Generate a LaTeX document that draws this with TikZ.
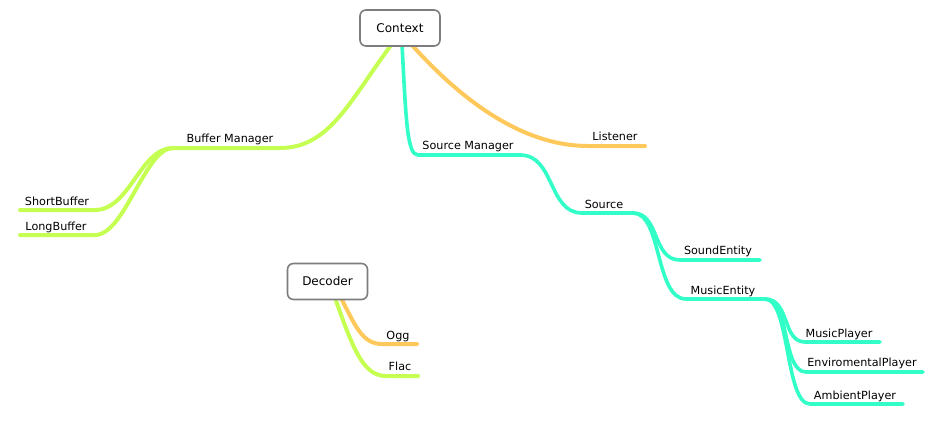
\documentclass[tikz,border=0pt]{standalone}
\usepackage{fontspec}
\setmainfont{DejaVu Sans}
\usetikzlibrary{backgrounds}
\definecolor{cgreen}{RGB}{196,255,82}
\definecolor{corange}{RGB}{255,200,90}
\definecolor{cteal}{RGB}{50,255,200}
\definecolor{cbox}{RGB}{125,125,125}
\tikzset{
  topic/.style={draw=cbox,line width=1.6pt,rounded corners=6pt,fill=white,minimum width=80pt,minimum height=36pt,inner sep=0pt,font=\fontsize{12}{14}\selectfont},
  lbl/.style={anchor=base,inner sep=0pt,font=\fontsize{11.2}{13}\selectfont},
  br/.style={line width=4pt,line cap=round},
  brg/.style={br,cgreen},
  bro/.style={br,corange},
  brt/.style={br,cteal,line width=3.6pt}
}
\begin{document}
\begin{tikzpicture}[x=1pt,y=-1pt]
\useasboundingbox (0,0) rectangle (943,423);
% boxes
\node[topic] (ctx) at (400,28) {Context};
\node[topic] (dec) at (327.5,281.5) {Decoder};
% labels
\node[lbl] (bm) at (230,142) {Buffer Manager};
\node[lbl] (sb) at (57,205) {ShortBuffer};
\node[lbl] (lb) at (56,230) {LongBuffer};
\node[lbl] (sm) at (468,149) {Source Manager};
\node[lbl] (li) at (615,140) {Listener};
\node[lbl] (so) at (604,208) {Source};
\node[lbl] (se) at (718,254) {SoundEntity};
\node[lbl] (me) at (723,294) {MusicEntity};
\node[lbl] (mp) at (839,337) {MusicPlayer};
\node[lbl] (ep) at (862,366) {EnviromentalPlayer};
\node[lbl] (ap) at (855,399) {AmbientPlayer};
\node[lbl] (og) at (398,339) {Ogg};
\node[lbl] (fl) at (400,370) {Flac};
% line coordinates
\coordinate (ctxg) at (392,44);
\coordinate (ctxt) at (402,44);
\coordinate (ctxo) at (411,44);
\coordinate (bmL) at (173,148); \coordinate (bmR) at (280,148);
\coordinate (sbL) at (20,210); \coordinate (sbR) at (95,210);
\coordinate (lbL) at (20,235); \coordinate (lbR) at (95,235);
\coordinate (smL) at (418,155); \coordinate (smR) at (520,155);
\coordinate (liL) at (588,146); \coordinate (liR) at (645,146);
\coordinate (soL) at (582,213); \coordinate (soR) at (633,213);
\coordinate (seL) at (680,260); \coordinate (seR) at (760,260);
\coordinate (meL) at (686,299); \coordinate (meR) at (765,299);
\coordinate (mpL) at (805,342); \coordinate (mpR) at (880,342);
\coordinate (epL) at (806,372); \coordinate (epR) at (923,372);
\coordinate (apL) at (810,404); \coordinate (apR) at (903,404);
\coordinate (decg) at (335,298); \coordinate (deco) at (341,298);
\coordinate (ogL) at (382,344); \coordinate (ogR) at (417,344);
\coordinate (flL) at (386,376); \coordinate (flR) at (418,376);
\begin{pgfonlayer}{background}
% green
\draw[brg] (ctxg) .. controls (350,100) and (330,148) .. (bmR) -- (bmL);
\draw[brg] (bmL) .. controls (140,148) and (130,210) .. (sbR) -- (sbL);
\draw[brg] (bmL) .. controls (145,148) and (125,235) .. (lbR) -- (lbL);
% orange
\draw[bro] (ctxo) .. controls (470,110) and (530,146) .. (liL) -- (liR);
% teal
\draw[brt] (ctxt) .. controls (406,120) and (407,155) .. (smL) -- (smR);
\draw[brt] (smR) .. controls (555,155) and (548,213) .. (soL) -- (soR);
\draw[brt] (soR) .. controls (660,213) and (652,260) .. (seL) -- (seR);
\draw[brt] (soR) .. controls (662,213) and (655,299) .. (meL) -- (meR);
\draw[brt] (meR) .. controls (790,299) and (782,342) .. (mpL) -- (mpR);
\draw[brt] (meR) .. controls (790,299) and (782,372) .. (epL) -- (epR);
\draw[brt] (meR) .. controls (790,299) and (785,404) .. (apL) -- (apR);
% decoder
\draw[bro] (deco) .. controls (355,325) and (362,344) .. (ogL) -- (ogR);
\draw[brg] (decg) .. controls (352,345) and (362,376) .. (flL) -- (flR);
\end{pgfonlayer}
\end{tikzpicture}
\end{document}
